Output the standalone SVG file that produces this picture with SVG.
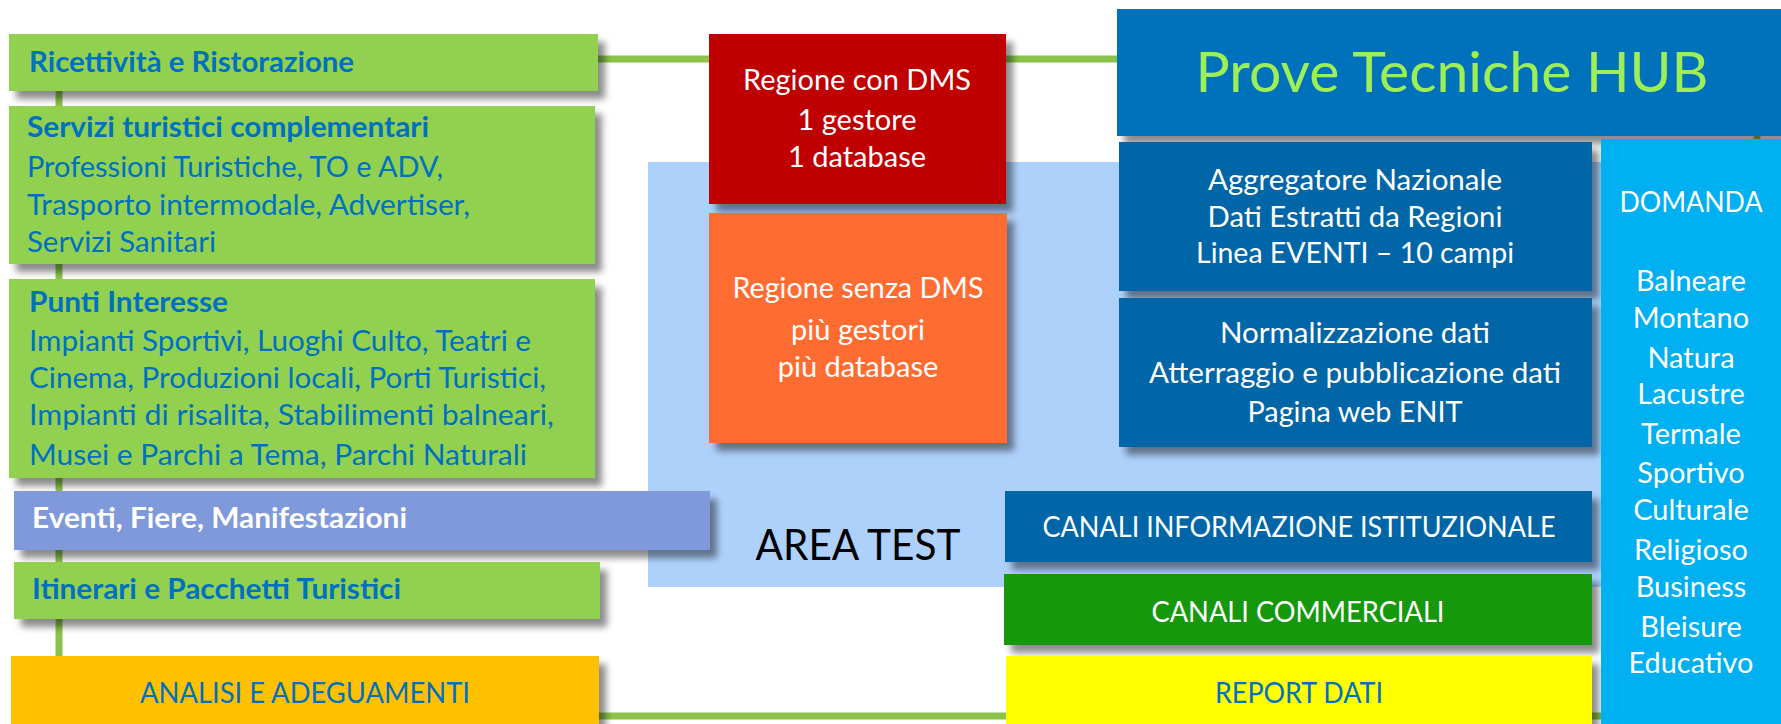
<svg xmlns="http://www.w3.org/2000/svg" width="1781" height="724" viewBox="0 0 1781 724">
<defs>
<filter id="sh" x="-10%" y="-10%" width="130%" height="140%">
<feDropShadow dx="7" dy="8" stdDeviation="3.5" flood-color="#000" flood-opacity="0.45"/>
</filter>
</defs>
<style>
.sh{filter:url(#sh)}
text{font-family:Lato,"Open Sans","Liberation Sans",sans-serif;font-size:29px}
.bd{font-weight:bold}
.bl{fill:#0070C0}
.wh{fill:#FFFFFF}
.c{text-anchor:middle}
.g{fill:#92D050}
.db{fill:#0366A8}
.conn{fill:none;stroke:#8BC34A;stroke-width:7}
</style>
<rect x="0" y="0" width="1781" height="724" fill="#FFFFFF"/>
<g id="connectors">
<path class="conn" d="M59 59 H1757 V716 H59 Z"/>
</g>
<g id="area-test">
<rect x="648" y="162" width="960" height="425" fill="#AED1FC"/>
<text x="858" y="560" style="font-size:42px" fill="#000000" class="c" textLength="205" lengthAdjust="spacingAndGlyphs">AREA TEST</text>
</g>
<g id="ricettivita">
<rect class="g sh" x="9" y="34" width="589" height="57"/>
<text x="29" y="72" class="bd bl" textLength="325" lengthAdjust="spacingAndGlyphs">Ricettività e Ristorazione</text>
</g>
<g id="servizi">
<rect class="g sh" x="9" y="106" width="586" height="158"/>
<text x="27" y="137" class="bd bl" textLength="402" lengthAdjust="spacingAndGlyphs">Servizi turistici complementari</text>
<text x="27" y="177" class="bl" textLength="416" lengthAdjust="spacingAndGlyphs">Professioni Turistiche, TO e ADV,</text>
<text x="27" y="215" class="bl" textLength="443" lengthAdjust="spacingAndGlyphs">Trasporto intermodale, Advertiser,</text>
<text x="27" y="252" class="bl" textLength="189" lengthAdjust="spacingAndGlyphs">Servizi Sanitari</text>
</g>
<g id="punti">
<rect class="g sh" x="9" y="279" width="586" height="199"/>
<text x="29" y="312" class="bd bl" textLength="199" lengthAdjust="spacingAndGlyphs">Punti Interesse</text>
<text x="29" y="351" class="bl" textLength="502" lengthAdjust="spacingAndGlyphs">Impianti Sportivi, Luoghi Culto, Teatri e</text>
<text x="29" y="388" class="bl" textLength="517" lengthAdjust="spacingAndGlyphs">Cinema, Produzioni locali, Porti Turistici,</text>
<text x="29" y="425" class="bl" textLength="525" lengthAdjust="spacingAndGlyphs">Impianti di risalita, Stabilimenti balneari,</text>
<text x="29" y="465" class="bl" textLength="498" lengthAdjust="spacingAndGlyphs">Musei e Parchi a Tema, Parchi Naturali</text>
</g>
<g id="eventi">
<rect class="sh" x="14" y="491" width="696" height="59" fill="#7F99DA"/>
<text x="32" y="528" class="bd wh" textLength="375" lengthAdjust="spacingAndGlyphs">Eventi, Fiere, Manifestazioni</text>
</g>
<g id="itinerari">
<rect class="g sh" x="14" y="562" width="586" height="57"/>
<text x="32" y="599" class="bd bl" textLength="369" lengthAdjust="spacingAndGlyphs">Itinerari e Pacchetti Turistici</text>
</g>
<g id="analisi">
<rect class="sh" x="11" y="656" width="588" height="80" fill="#FFC000"/>
<text x="305" y="703" class="bl c" textLength="330" lengthAdjust="spacingAndGlyphs">ANALISI E ADEGUAMENTI</text>
</g>
<g id="regione-dms">
<rect class="sh" x="709" y="34" width="297" height="170" fill="#C00000"/>
<text x="857" y="90" class="wh c" textLength="228" lengthAdjust="spacingAndGlyphs">Regione con DMS</text>
<text x="857" y="130" class="wh c">1 gestore</text>
<text x="857" y="167" class="wh c">1 database</text>
</g>
<g id="regione-senza-dms">
<rect class="sh" x="709" y="213" width="298" height="230" fill="#FF6C32"/>
<text x="858" y="298" class="wh c" textLength="251" lengthAdjust="spacingAndGlyphs">Regione senza DMS</text>
<text x="858" y="340" class="wh c">più gestori</text>
<text x="858" y="377" class="wh c">più database</text>
</g>
<g id="prove-hub">
<rect class="sh" x="1117" y="9" width="680" height="127" fill="#0072BC"/>
<text x="1452" y="92" class="c" style="font-size:56px" fill="#9DEF55" textLength="513" lengthAdjust="spacingAndGlyphs">Prove Tecniche HUB</text>
</g>
<g id="aggregatore">
<rect class="db sh" x="1119" y="142" width="473" height="149"/>
<text x="1355" y="190" class="wh c" textLength="294" lengthAdjust="spacingAndGlyphs">Aggregatore Nazionale</text>
<text x="1355" y="227" class="wh c" textLength="295" lengthAdjust="spacingAndGlyphs">Dati Estratti da Regioni</text>
<text x="1355" y="263" class="wh c" textLength="318" lengthAdjust="spacingAndGlyphs">Linea EVENTI – 10 campi</text>
</g>
<g id="normalizzazione">
<rect class="db sh" x="1119" y="298" width="473" height="149"/>
<text x="1355" y="343" class="wh c" textLength="270" lengthAdjust="spacingAndGlyphs">Normalizzazione dati</text>
<text x="1355" y="383" class="wh c" textLength="412" lengthAdjust="spacingAndGlyphs">Atterraggio e pubblicazione dati</text>
<text x="1355" y="422" class="wh c" textLength="215" lengthAdjust="spacingAndGlyphs">Pagina web ENIT</text>
</g>
<g id="canali-istituzionali">
<rect class="db sh" x="1005" y="491" width="587" height="71"/>
<text x="1299" y="537" class="wh c" textLength="513" lengthAdjust="spacingAndGlyphs">CANALI INFORMAZIONE ISTITUZIONALE</text>
</g>
<g id="canali-commerciali">
<rect class="sh" x="1004" y="574" width="588" height="71" fill="#13980A"/>
<text x="1298" y="622" class="wh c" textLength="293" lengthAdjust="spacingAndGlyphs">CANALI COMMERCIALI</text>
</g>
<g id="report-dati">
<rect class="sh" x="1006" y="656" width="586" height="80" fill="#FFFF00"/>
<text x="1299" y="703" class="bl c" textLength="168" lengthAdjust="spacingAndGlyphs">REPORT DATI</text>
</g>
<g id="domanda">
<rect class="sh" x="1601" y="139" width="190" height="600" fill="#00B0F0"/>
<text x="1691" y="212" class="wh c" textLength="143" lengthAdjust="spacingAndGlyphs">DOMANDA</text>
<text x="1691" y="291" class="wh c" textLength="110" lengthAdjust="spacingAndGlyphs">Balneare</text>
<text x="1691" y="328" class="wh c">Montano</text>
<text x="1691" y="368" class="wh c">Natura</text>
<text x="1691" y="404" class="wh c">Lacustre</text>
<text x="1691" y="444" class="wh c">Termale</text>
<text x="1691" y="483" class="wh c">Sportivo</text>
<text x="1691" y="520" class="wh c">Culturale</text>
<text x="1691" y="560" class="wh c">Religioso</text>
<text x="1691" y="597" class="wh c">Business</text>
<text x="1691" y="637" class="wh c">Bleisure</text>
<text x="1691" y="673" class="wh c" textLength="125" lengthAdjust="spacingAndGlyphs">Educativo</text>
</g>
</svg>
